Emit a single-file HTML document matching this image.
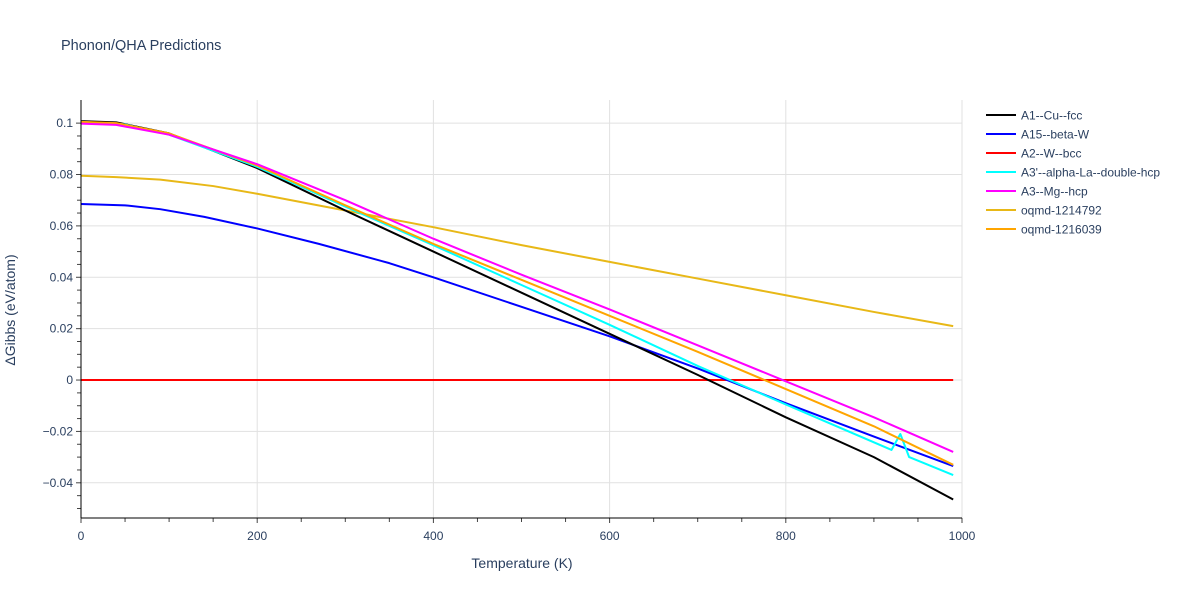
<!DOCTYPE html>
<html><head><meta charset="utf-8"><style>
body{margin:0;background:#fff;font-family:"Liberation Sans",Arial,sans-serif}
svg text{font-family:"Liberation Sans",Arial,sans-serif;fill:#2a3f5f}
</style></head><body>
<svg id="chart" width="1200" height="600" xmlns="http://www.w3.org/2000/svg">
<text x="61" y="50" font-size="14.5">Phonon/QHA Predictions</text>
<g id="grid"></g><g id="series"></g><g id="axes"></g><g id="legend"></g>
<text x="522" y="568" font-size="14" text-anchor="middle">Temperature (K)</text>
<text transform="translate(15,310) rotate(-90)" font-size="14" text-anchor="middle">ΔGibbs (eV/atom)</text>
</svg>
<script>
const names=["A1--Cu--fcc","A15--beta-W","A2--W--bcc","A3'--alpha-La--double-hcp","A3--Mg--hcp","oqmd-1214792","oqmd-1216039"];
const colors=["#000000","#0000ff","#ff0000","#00ffff","#ff00ff","#e8b817","#ffa500"];
const tA1=[0,40,100,200,300,400,500,600,700,800,900,990];
const vA1=[0.1008,0.1003,0.096,0.0825,0.066,0.050,0.034,0.018,0.002,-0.0145,-0.030,-0.0465];
const tA15=[0,50,90,140,200,270,350,400,500,600,700,800,900,990];
const vA15=[0.0685,0.068,0.0665,0.0635,0.059,0.053,0.0455,0.040,0.0285,0.017,0.0045,-0.009,-0.022,-0.0335];
const tA2=[0,990];
const vA2=[0,0];
const tA3p=[0,50,100,200,300,400,500,600,700,800,920,930,940,990];
const vA3p=[0.1005,0.0995,0.0955,0.083,0.0675,0.0525,0.037,0.0215,0.0055,-0.0095,-0.0272,-0.021,-0.030,-0.037];
const tA3=[0,40,100,200,300,400,500,600,700,800,900,990];
const vA3=[0.0998,0.0993,0.0955,0.084,0.070,0.055,0.041,0.0275,0.0135,-0.0005,-0.0145,-0.028];
const tO1=[0,40,90,150,200,300,400,500,600,700,800,900,990];
const vO1=[0.0795,0.079,0.078,0.0755,0.0725,0.066,0.0595,0.0525,0.046,0.0395,0.033,0.0265,0.021];
const tO2=[0,40,100,200,300,400,500,600,700,800,900,990];
const vO2=[0.1005,0.1,0.096,0.0835,0.068,0.053,0.039,0.025,0.011,-0.0035,-0.018,-0.033];
const xTicks=[0,200,400,600,800,1000];
const yTicks=[-0.04,-0.02,0,0.02,0.04,0.06,0.08,0.1];
const yTickLabels=["−0.04","−0.02","0","0.02","0.04","0.06","0.08","0.1"];
const NS="http://www.w3.org/2000/svg";
const X0=81,X1=962,Y0=518,Y1=100,XMIN=0,XMAX=1000,YMIN=-0.0537,YMAX=0.109;
const xs=v=>X0+(v-XMIN)/(XMAX-XMIN)*(X1-X0);
const ys=v=>Y0-(v-YMIN)/(YMAX-YMIN)*(Y0-Y1);
function mk(tag,attrs,parent){const e=document.createElementNS(NS,tag);for(const k in attrs)e.setAttribute(k,attrs[k]);document.getElementById(parent).appendChild(e);return e;}
for(const t of xTicks){if(t>0){const g=mk("line",{x1:xs(t),x2:xs(t),y1:Y1,y2:Y0,stroke:"#e1e1e1"},"grid");

}
const l=mk("text",{x:xs(t),y:Y0+22,"font-size":12,"text-anchor":"middle"},"axes");l.textContent=t;

}
yTicks.forEach((t,i)=>{const g=mk("line",{x1:X0,x2:X1,y1:ys(t),y2:ys(t),stroke:"#e1e1e1"},"grid");


const l=mk("text",{x:X0-8,y:ys(t)+4,"font-size":12,"text-anchor":"end"},"axes");l.textContent=yTickLabels[i];

});
for(let v=-0.05;v<=0.105;v+=0.005){const y=ys(v);if(y<Y1||y>Y0)continue;const big=Math.abs(Math.round(v*1000)%20)===0;
const tk=mk("line",{x1:X0-(big?5:4),x2:X0,y1:y,y2:y,stroke:"#444"},"axes");

}
for(let v=0;v<=1000;v+=50){const x=xs(v);const tk=mk("line",{x1:x,x2:x,y1:Y0,y2:Y0+(v%200===0?5:4),stroke:"#444"},"axes");

}
const ax=mk("line",{x1:X0,x2:X0,y1:Y1,y2:Y0,stroke:"#000"},"axes");


const ax2=mk("line",{x1:X0,x2:X1,y1:Y0,y2:Y0,stroke:"#000"},"axes");


const T=[tA1,tA15,tA2,tA3p,tA3,tO1,tO2],V=[vA1,vA15,vA2,vA3p,vA3,vO1,vO2];
const order=[2,5,1,0,3,6,4];
for(const i of order){const p=mk("polyline",{points:T[i].map((t,j)=>xs(t)+","+ys(V[i][j])).join(" "),fill:"none",stroke:colors[i],"stroke-width":2,"stroke-linejoin":"round"},"series");

}
names.forEach((n,i)=>{const y=115+i*19;
const ln=mk("line",{x1:986,x2:1016,y1:y,y2:y,stroke:colors[i],"stroke-width":2},"legend");


const tx=mk("text",{x:1021,y:y+4.5,"font-size":12},"legend");tx.textContent=n;

});
</script>
</body></html>
